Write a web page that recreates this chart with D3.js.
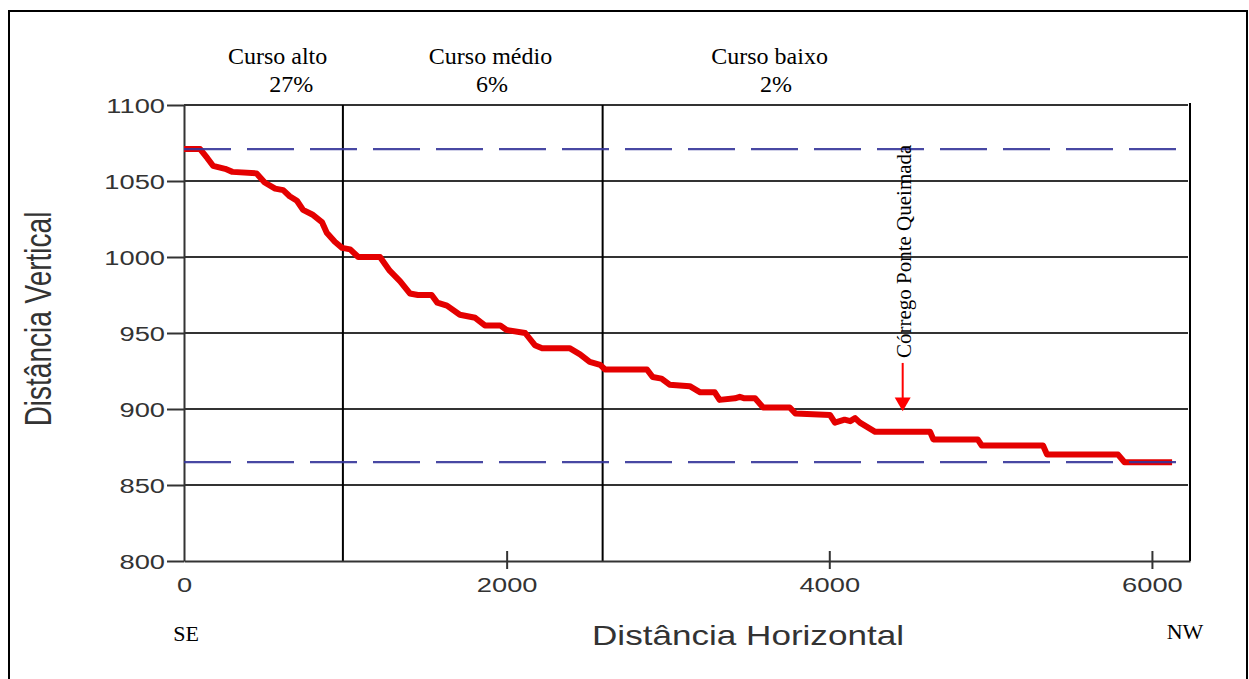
<!DOCTYPE html>
<html>
<head>
<meta charset="utf-8">
<script src="https://cdn.jsdelivr.net/npm/d3@7"></script>
<style>
  html, body { margin: 0; padding: 0; background: #fff; }
  svg { display: block; }
</style>
</head>
<body>
<svg id="chart" width="1249" height="679"></svg>
<script>
// ---- data ----
const distances = [0, 100, 145, 180, 255, 300, 450, 500, 565, 615, 655, 700, 738, 795, 855, 885, 935, 980, 1030, 1080, 1215, 1275, 1340, 1400, 1450, 1535, 1570, 1630, 1710, 1805, 1865, 1960, 2000, 2115, 2175, 2220, 2390, 2455, 2515, 2580, 2610, 2870, 2905, 2960, 3010, 3135, 3200, 3290, 3320, 3415, 3445, 3475, 3540, 3590, 3755, 3790, 4005, 4035, 4095, 4130, 4160, 4190, 4285, 4625, 4645, 4920, 4945, 5325, 5350, 5790, 5830, 6125];
const elevations = [1071, 1071, 1065, 1060, 1058, 1056, 1055, 1049, 1045, 1044, 1040, 1037, 1031, 1028, 1023, 1016, 1010, 1006, 1005, 1000, 1000, 991, 984, 976, 975, 975, 970, 968, 962, 960, 955, 955, 952, 950, 942, 940, 940, 936, 931, 929, 926, 926, 921, 920, 916, 915, 911, 911, 906, 907, 908, 907, 907, 901, 901, 897, 896, 891, 893, 892, 894, 891, 885, 885, 880, 880, 876, 876, 870, 870, 865, 865];

const xTicks = [0, 2000, 4000, 6000];
const yTicks = [800, 850, 900, 950, 1000, 1050, 1100];
const referenceLevels = [1071, 865];          // dashed blue lines
const courseBreaks = [985, 2595];             // vertical dividers
const courseNames = ["Curso alto", "Curso médio", "Curso baixo"];
const courseSlopes = ["27%", "6%", "2%"];
const courseLabelX = [580, 1900, 3630];       // label centres (distance units)
const courseSlopeX = [665, 1910, 3670];
const streamName = "Córrego Ponte Queimada";
const streamDistance = 4455;
const xTitle = "Distância Horizontal";
const yTitle = "Distância Vertical";
const leftDir = "SE", rightDir = "NW";

// ---- layout ----
const svg = d3.select("#chart");
const X0 = 184, X1 = 1190, Y0 = 105, Y1 = 561;
const x = d3.scaleLinear().domain([0, 6236]).range([X0, X1]);
const y = d3.scaleLinear().domain([800, 1100]).range([Y1, Y0]);
const fmt = d3.format("d");

const sans = "'Liberation Sans', Arial, sans-serif";
const serif = "'Liberation Serif', 'Times New Roman', serif";

// outer frame
svg.append("rect").attr("x", 9).attr("y", 11).attr("width", 1238).attr("height", 700)
  .attr("fill", "none").attr("stroke", "#000").attr("stroke-width", 2);

// horizontal grid lines
svg.append("g").selectAll("line").data(yTicks.filter(d => d > 800)).join("line")
  .attr("x1", X0).attr("x2", X1 - 2)
  .attr("y1", d => y(d)).attr("y2", d => y(d))
  .attr("stroke", "#333").attr("stroke-width", 2);

// vertical dividers
svg.append("g").selectAll("line").data(courseBreaks).join("line")
  .attr("x1", d => x(d)).attr("x2", d => x(d))
  .attr("y1", Y0).attr("y2", Y1)
  .attr("stroke", "#000").attr("stroke-width", 2);

// right border
svg.append("line").attr("x1", X1).attr("x2", X1).attr("y1", Y0 - 2).attr("y2", Y1)
  .attr("stroke", "#000").attr("stroke-width", 2);

// Y axis
const yAxis = svg.append("g").attr("transform", `translate(${X0},0)`)
  .call(d3.axisLeft(y).tickValues(yTicks).tickFormat(fmt).tickSize(17).tickPadding(2).tickSizeOuter(0));
yAxis.select(".domain").attr("stroke", "#333").attr("stroke-width", 2);
yAxis.selectAll(".tick line").attr("stroke", "#333").attr("stroke-width", 2);
yAxis.selectAll(".tick text")
  .attr("font-family", sans).attr("font-size", 21).attr("fill", "#333")
  .attr("x", 0).attr("dy", "0.36em")
  .attr("transform", "translate(-19,0) scale(1.3,1)");

// X axis
const xAxis = svg.append("g").attr("transform", `translate(0,${Y1})`)
  .call(d3.axisBottom(x).tickValues(xTicks).tickFormat(fmt).tickSize(8).tickSizeOuter(0));
xAxis.select(".domain").attr("stroke", "#333").attr("stroke-width", 2);
xAxis.selectAll(".tick line").attr("stroke", "#333").attr("stroke-width", 2)
  .attr("y1", -10).attr("y2", 8)
  .filter(d => d === 0).remove();
xAxis.selectAll(".tick text")
  .attr("font-family", sans).attr("font-size", 21).attr("fill", "#333")
  .attr("x", 0).attr("y", 23).attr("dy", "0.36em")
  .attr("transform", "scale(1.3,1)");

// profile line
const line = d3.line().x((d, i) => x(distances[i])).y((d, i) => y(elevations[i]));
svg.append("path").datum(elevations).attr("d", line)
  .attr("fill", "none").attr("stroke", "#e40000").attr("stroke-width", 6)
  .attr("stroke-linejoin", "round").attr("stroke-linecap", "butt");

// dashed reference levels
svg.append("g").selectAll("line").data(referenceLevels).join("line")
  .attr("x1", X0).attr("x2", X1 - 2)
  .attr("y1", d => y(d)).attr("y2", d => y(d))
  .attr("stroke", "#35359a").attr("stroke-width", 2.2)
  .attr("stroke-dasharray", "47,16").attr("opacity", 0.9);

// course labels
svg.append("g").selectAll("text").data(courseNames).join("text")
  .attr("x", (d, i) => x(courseLabelX[i])).attr("y", 64)
  .attr("text-anchor", "middle").attr("font-family", serif).attr("font-size", 24)
  .attr("fill", "#000").text(d => d);
svg.append("g").selectAll("text").data(courseSlopes).join("text")
  .attr("x", (d, i) => x(courseSlopeX[i])).attr("y", 92)
  .attr("text-anchor", "middle").attr("font-family", serif).attr("font-size", 24)
  .attr("fill", "#000").text(d => d);

// stream annotation
const ax = x(streamDistance);
svg.append("line").attr("x1", ax).attr("x2", ax).attr("y1", y(930.3)).attr("y2", y(901.5))
  .attr("stroke", "#ff0000").attr("stroke-width", 2);
svg.append("path")
  .attr("d", `M${ax - 8},${y(907.5)} L${ax + 8},${y(907.5)} L${ax},${y(898.5)} Z`)
  .attr("fill", "#ff0000");
svg.append("text")
  .attr("transform", `translate(${ax + 8},${y(933.5)}) rotate(-90)`)
  .attr("font-family", serif).attr("font-size", 21).attr("fill", "#000")
  .text(streamName);

// axis titles
svg.append("text")
  .attr("transform", `translate(748,645) scale(1.3,1)`)
  .attr("text-anchor", "middle").attr("font-family", sans).attr("font-size", 27)
  .attr("fill", "#333").text(xTitle);
svg.append("text")
  .attr("transform", `translate(51,319) scale(1.3,1) rotate(-90)`)
  .attr("text-anchor", "middle").attr("font-family", sans).attr("font-size", 28)
  .attr("fill", "#333").text(yTitle);

// direction labels
svg.append("text").attr("x", 186).attr("y", 641).attr("text-anchor", "middle")
  .attr("font-family", serif).attr("font-size", 22).attr("fill", "#000").text(leftDir);
svg.append("text").attr("x", 1185).attr("y", 639).attr("text-anchor", "middle")
  .attr("font-family", serif).attr("font-size", 22).attr("fill", "#000").text(rightDir);
</script>
</body>
</html>
